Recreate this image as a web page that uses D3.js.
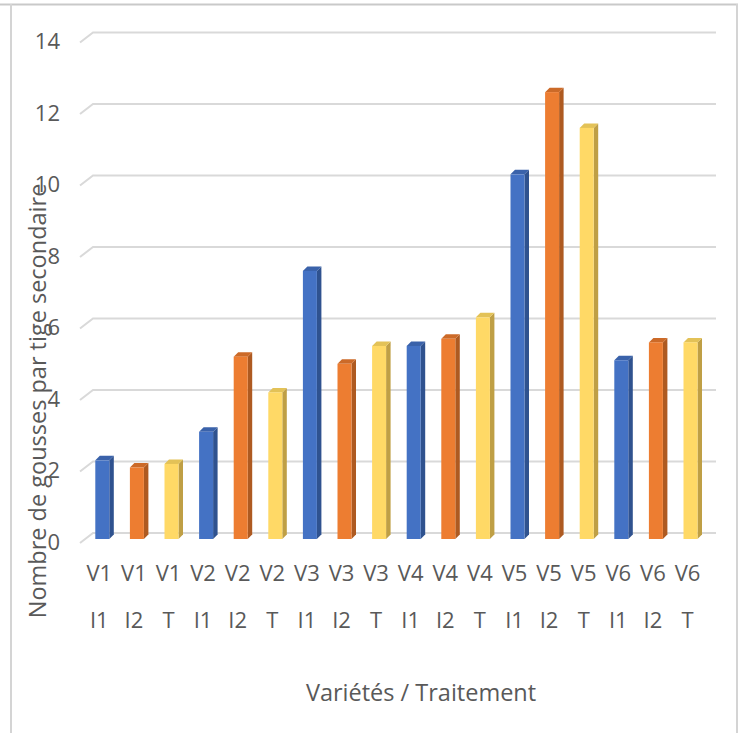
<!DOCTYPE html>
<html>
<head>
<meta charset="utf-8">
<script src="https://cdn.jsdelivr.net/npm/d3@7"></script>
<style>
  html, body { margin: 0; padding: 0; background: #fff; }
  svg { display: block; }
  text { font-family: "Open Sans", "Noto Sans", sans-serif; fill: #595959; }
</style>
</head>
<body>
<script>
// Nombre de gousses par tige secondaire, par variété et traitement
const varietes   = ["V1","V1","V1","V2","V2","V2","V3","V3","V3","V4","V4","V4","V5","V5","V5","V6","V6","V6"];
const traitements = ["I1","I2","T","I1","I2","T","I1","I2","T","I1","I2","T","I1","I2","T","I1","I2","T"];
const valeurs    = [2.2, 2.0, 2.1, 3.0, 5.1, 4.1, 7.5, 4.9, 5.4, 5.4, 5.6, 6.2, 10.2, 12.5, 11.5, 5.0, 5.5, 5.5];
const yTicks     = [0, 2, 4, 6, 8, 10, 12, 14];

// face colours per treatment: front, side, top
const faces = {
  I1: { front: "#4472C4", side: "#2F528F", top: "#3A62AA" },
  I2: { front: "#ED7D31", side: "#AE5A21", top: "#CC6A28" },
  T:  { front: "#FFD966", side: "#BF9F45", top: "#E3C257" }
};

const W = 743, H = 733;
const svg = d3.select("body").append("svg").attr("width", W).attr("height", H);

// outer frame
svg.append("line").attr("x1", 0).attr("x2", 738).attr("y1", 4.5).attr("y2", 4.5)
  .attr("stroke", "#c9c9c9").attr("stroke-width", 2);
svg.append("line").attr("x1", 11).attr("x2", 11).attr("y1", 4).attr("y2", H)
  .attr("stroke", "#d4d4d4").attr("stroke-width", 2);
svg.append("line").attr("x1", 737).attr("x2", 737).attr("y1", 4).attr("y2", H)
  .attr("stroke", "#d4d4d4").attr("stroke-width", 2);

const idx = d3.range(valeurs.length);
const x = d3.scaleBand().domain(idx).range([85, 707.8]);
const y = d3.scaleLinear().domain([0, 14]).range([539, 38.5]);

// depth offsets of the 3D box
const backDy = -6, frontDy = 4;
const wallX0 = 80, wallX1 = 93, wallX2 = 716;

// gridlines: floor/wall diagonal then back wall
const grid = svg.append("g");
yTicks.forEach(t => {
  grid.append("path")
    .attr("d", `M${wallX0},${y(t) + frontDy}L${wallX1},${y(t) + backDy}L${wallX2},${y(t) + backDy}`)
    .attr("fill", "none").attr("stroke", "#d9d9d9").attr("stroke-width", 2);
});

// y tick labels
const yAxis = d3.axisLeft(y).tickValues(yTicks).tickSize(0).tickPadding(0);
const gy = svg.append("g").attr("transform", `translate(60,${frontDy - 1})`).call(yAxis);
gy.select(".domain").remove();
gy.selectAll("text").style("font-size", "22px").attr("fill", "#595959")
  .style("font-family", "'Open Sans', sans-serif");

// bars as 3D columns
const barW = 14, dep = 4.5;
const bars = svg.append("g");
idx.forEach(i => {
  const c = faces[traitements[i]];
  const x0 = x(i) + x.bandwidth() / 2 - barW / 2;
  const x1 = x0 + barW;
  const yt = y(valeurs[i]);
  const yb = y(0);
  // side face
  bars.append("path")
    .attr("d", `M${x1},${yt}L${x1 + dep},${yt - dep}L${x1 + dep},${yb - dep}L${x1},${yb}Z`)
    .attr("fill", c.side);
  // top face
  bars.append("path")
    .attr("d", `M${x0},${yt}L${x0 + dep},${yt - dep}L${x1 + dep},${yt - dep}L${x1},${yt}Z`)
    .attr("fill", c.top);
  // front face
  bars.append("rect").attr("x", x0).attr("y", yt).attr("width", barW).attr("height", yb - yt)
    .attr("fill", c.front);
});

// category labels, two lines
const labels = svg.append("g").style("font-size", "22px");
idx.forEach(i => {
  const cx = x(i) + x.bandwidth() / 2 - 3;
  labels.append("text").attr("x", cx).attr("y", 581).attr("text-anchor", "middle").text(varietes[i]);
  labels.append("text").attr("x", cx).attr("y", 628).attr("text-anchor", "middle").text(traitements[i]);
});

// axis titles
svg.append("text").attr("x", 421).attr("y", 701).attr("text-anchor", "middle")
  .style("font-size", "23.5px").text("Variétés / Traitement");
svg.append("text").attr("transform", "translate(46,401) rotate(-90)").attr("text-anchor", "middle")
  .style("font-size", "23.5px").text("Nombre de gousses par tige secondaire");
</script>
</body>
</html>
